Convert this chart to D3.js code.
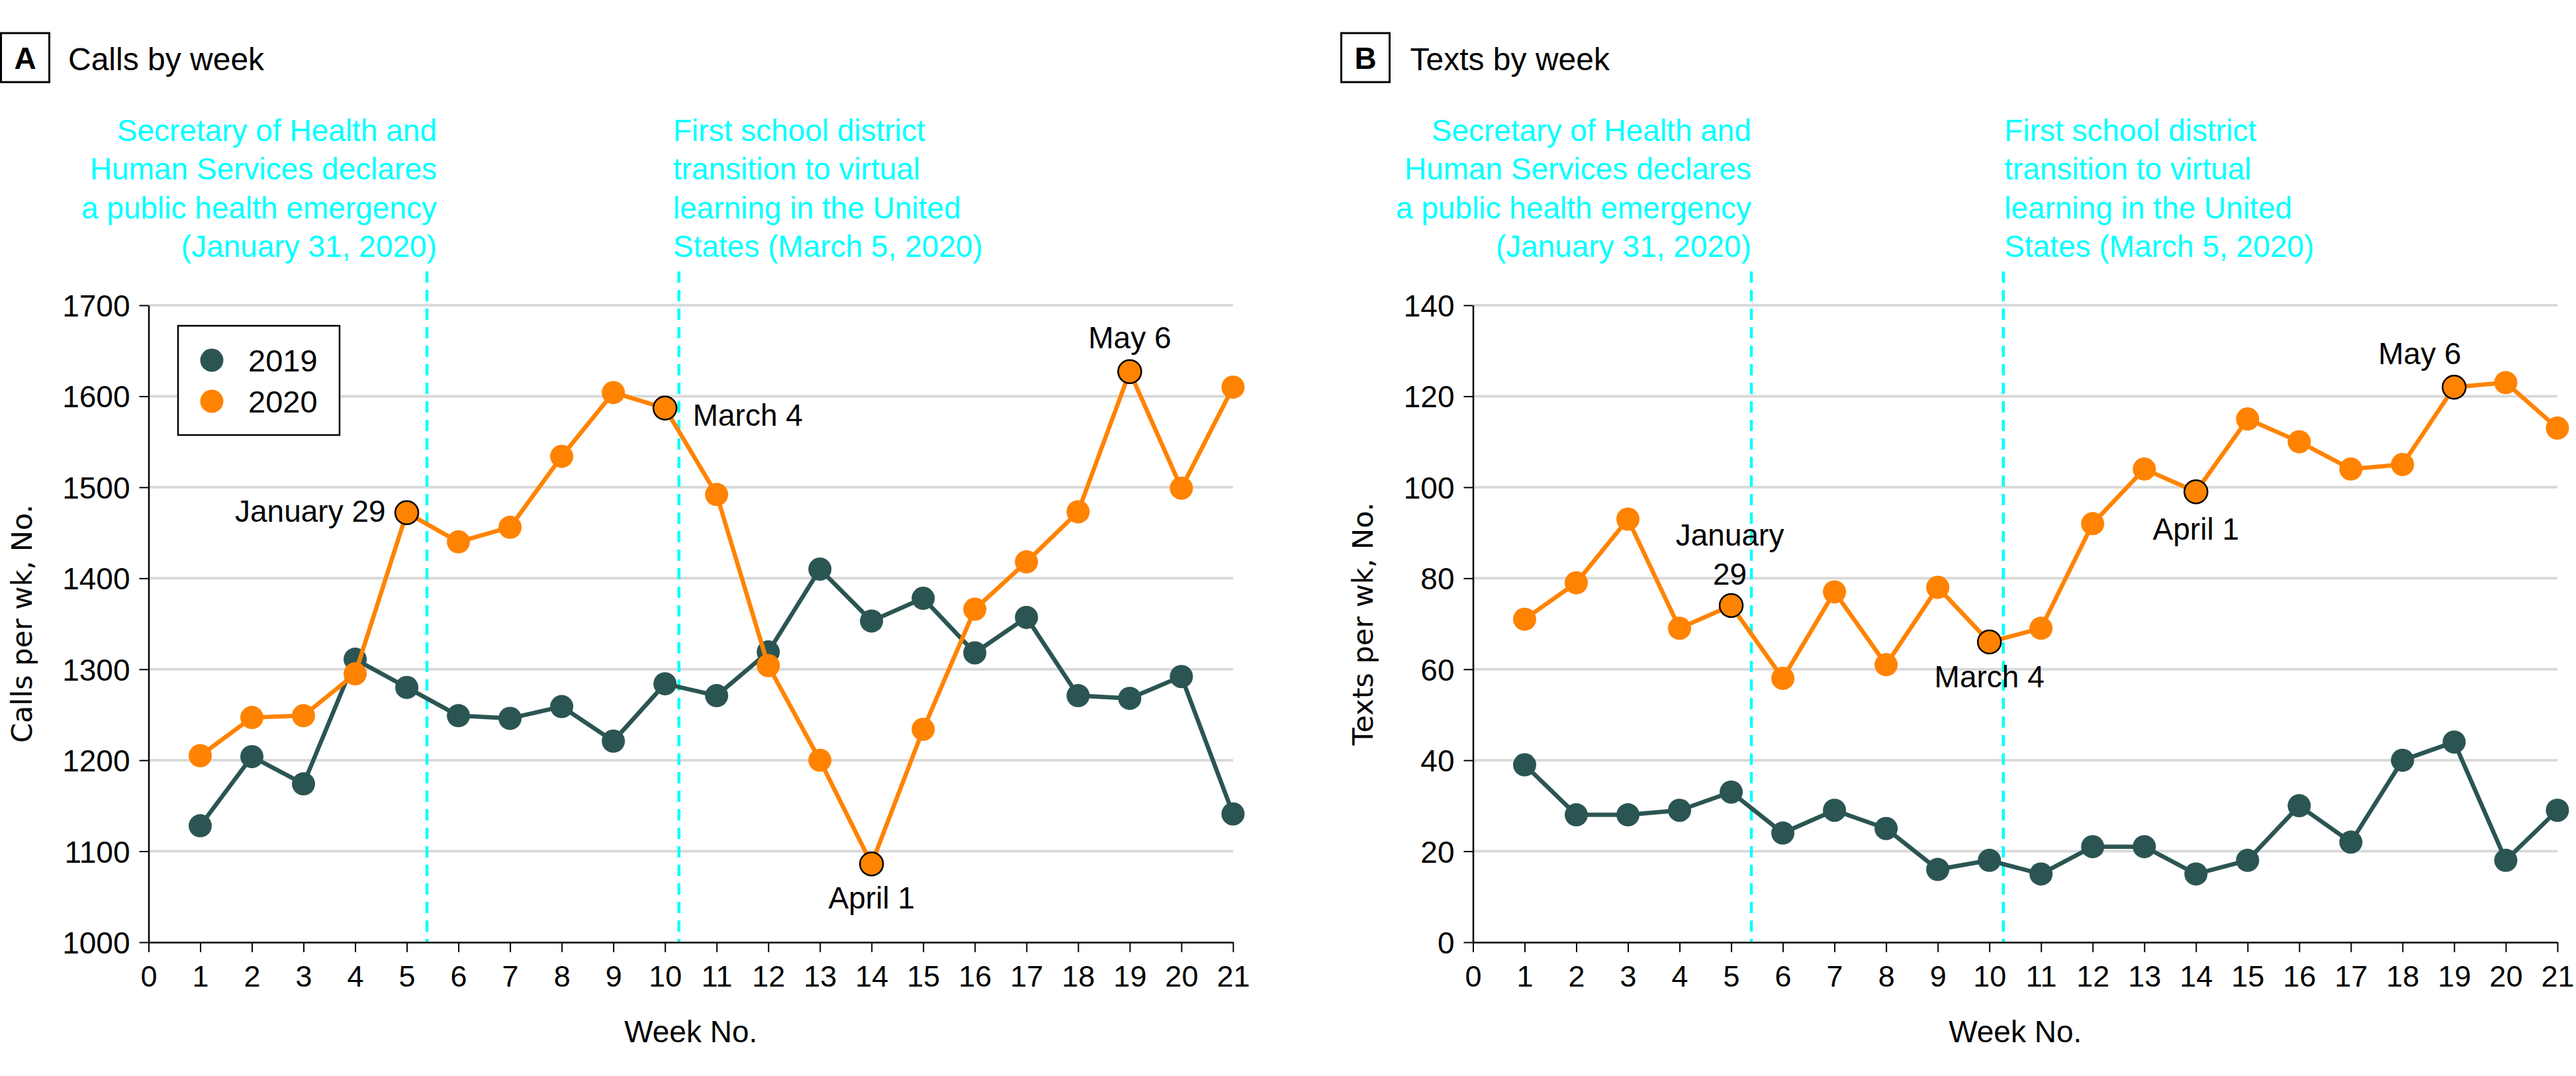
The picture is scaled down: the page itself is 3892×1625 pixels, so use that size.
<!DOCTYPE html>
<html>
<head>
<meta charset="utf-8">
<script src="https://cdn.jsdelivr.net/npm/d3@7"></script>
<style>
  html, body { margin: 0; padding: 0; background: #ffffff; }
  svg { display: block; }
</style>
</head>
<body>
<svg id="chart" width="3892" height="1625"></svg>
<script>
// ---------------- DATA ----------------
const weeks = d3.range(1, 22);                 // week numbers 1..21
const weekTicks = d3.range(0, 22);             // x tick labels 0..21
const seriesNames = ["2019", "2020"];

const calls2019 = [1128, 1204, 1174, 1311, 1280, 1249, 1246, 1259, 1221, 1284, 1271,
                   1319, 1410, 1353, 1378, 1318, 1357, 1271, 1268, 1292, 1141];
const calls2020 = [1205, 1247, 1249, 1295, 1472, 1440, 1456, 1534, 1604, 1587, 1492,
                   1304, 1200, 1086, 1234, 1366, 1418, 1473, 1627, 1499, 1610];
const texts2019 = [39, 28, 28, 29, 33, 24, 29, 25, 16, 18, 15, 21, 21, 15, 18, 30, 22, 40, 44, 18, 29];
const texts2020 = [71, 79, 93, 69, 74, 58, 77, 61, 78, 66, 69, 92, 104, 99, 115, 110, 104, 105, 122, 123, 113];

const callsTicks = [1000, 1100, 1200, 1300, 1400, 1500, 1600, 1700];
const textsTicks = [0, 20, 40, 60, 80, 100, 120, 140];

const panelLetters = ["A", "B"];
const panelTitles = ["Calls by week", "Texts by week"];
const yAxisTitles = ["Calls per wk, No.", "Texts per wk, No."];
const xAxisTitle = "Week No.";

// vertical event markers (in week units) and their captions
const eventWeeks = [5.39, 10.27];
const eventTexts = [
  ["Secretary of Health and", "Human Services declares", "a public health emergency", "(January 31, 2020)"],
  ["First school district", "transition to virtual", "learning in the United", "States (March 5, 2020)"]
];

// highlighted 2020 points
const highlightWeeks = [5, 10, 14, 19];
const highlightLabelsCalls = [["January 29"], ["March 4"], ["April 1"], ["May 6"]];
const highlightLabelsTexts = [["January", "29"], ["March 4"], ["April 1"], ["May 6"]];

// ---------------- STYLE / LAYOUT ----------------
const FONT = "'Liberation Sans', Arial, sans-serif";
const ALTFONT = "'DejaVu Sans', Verdana, sans-serif";
const COLORS = { "2019": "#2b5553", "2020": "#ff8300" };
const CYAN = "#00ffff";
const GRID = "#d9d9d9";
const STEP = 78.02;
const Y_TOP = 461, Y_BOT = 1423;
const R = 17.5;

const panels = [
  {
    letter: panelLetters[0], title: panelTitles[0], yTitle: yAxisTitles[0],
    s19: calls2019, s20: calls2020, ticks: callsTicks, labels: highlightLabelsCalls,
    x0: 224.5, boxX: 1.5, titleX: 103, yTitleX: 48, legend: true,
    evAnchor: [{ a: "end", w: 5.582 }, { a: "start", w: 10.158 }],
    lab: [
      { dx: -32, dy: 14, a: "end" },
      { dx: 42, dy: 27, a: "start" },
      { dx: 0, dy: 67, a: "middle" },
      { dx: 0, dy: -35, a: "middle" }
    ]
  },
  {
    letter: panelLetters[1], title: panelTitles[1], yTitle: yAxisTitles[1],
    s19: texts2019, s20: texts2020, ticks: textsTicks, labels: highlightLabelsTexts,
    x0: 2225.5, boxX: 2026.5, titleX: 2130.5, yTitleX: 2074, legend: false,
    evAnchor: [{ a: "end", w: 5.39 }, { a: "start", w: 10.29 }],
    lab: [
      { dx: -2, dy: -32, a: "middle" },
      { dx: 0, dy: 69, a: "middle" },
      { dx: 0, dy: 72, a: "middle" },
      { dx: -52, dy: -35, a: "middle" }
    ]
  }
];

const svg = d3.select("#chart");
svg.append("rect").attr("width", 3892).attr("height", 1625).attr("fill", "#fff");

panels.forEach(p => {
  const g = svg.append("g");
  const x = d3.scaleLinear().domain([0, 21]).range([p.x0, p.x0 + 21 * STEP]);
  const y = d3.scaleLinear().domain([p.ticks[0], p.ticks[p.ticks.length - 1]]).range([Y_BOT, Y_TOP]);

  // panel letter box + title
  g.append("rect").attr("x", p.boxX).attr("y", 50).attr("width", 73).attr("height", 74)
    .attr("fill", "none").attr("stroke", "#000").attr("stroke-width", 3);
  g.append("text").attr("x", p.boxX + 36.5).attr("y", 87 + 16.5)
    .attr("text-anchor", "middle").attr("font-family", FONT).attr("font-weight", "bold")
    .attr("font-size", 46).attr("fill", "#000").text(p.letter);
  g.append("text").attr("x", p.titleX).attr("y", 106)
    .attr("font-family", FONT).attr("font-size", 48).attr("fill", "#000").text(p.title);

  // gridlines
  g.append("g").selectAll("line").data(p.ticks.slice(1)).join("line")
    .attr("x1", x(0)).attr("x2", x(21))
    .attr("y1", d => y(d)).attr("y2", d => y(d))
    .attr("stroke", GRID).attr("stroke-width", 4);

  // event lines + captions
  eventWeeks.forEach((ew, i) => {
    g.append("line").attr("x1", x(ew)).attr("x2", x(ew)).attr("y1", 410).attr("y2", Y_BOT)
      .attr("stroke", CYAN).attr("stroke-width", 4.5).attr("stroke-dasharray", "17 11");
    const t = g.append("text").attr("font-family", FONT).attr("font-size", 46)
      .attr("fill", CYAN).attr("text-anchor", p.evAnchor[i].a);
    eventTexts[i].forEach((line, k) => {
      t.append("tspan").attr("x", x(p.evAnchor[i].w)).attr("y", 213 + k * 58.4).text(line);
    });
  });

  // legend (panel A)
  if (p.legend) {
    const lg = g.append("g");
    lg.append("rect").attr("x", 269).attr("y", 492).attr("width", 244).attr("height", 165)
      .attr("fill", "#fff").attr("stroke", "#000").attr("stroke-width", 2.5);
    seriesNames.forEach((s, i) => {
      const cy = 544 + i * 62;
      lg.append("circle").attr("cx", 320).attr("cy", cy).attr("r", R).attr("fill", COLORS[s]);
      lg.append("text").attr("x", 375).attr("y", cy + 16.5).attr("font-family", FONT)
        .attr("font-size", 47).attr("fill", "#000").text(s);
    });
  }

  // axes
  const xAxis = g.append("g").attr("transform", `translate(0,${Y_BOT})`)
    .call(d3.axisBottom(x).tickValues(weekTicks).tickSize(15).tickSizeOuter(0).tickPadding(20).tickFormat(d3.format("d")));
  const yAxis = g.append("g").attr("transform", `translate(${p.x0},0)`)
    .call(d3.axisLeft(y).tickValues(p.ticks).tickSize(14).tickSizeOuter(0).tickPadding(14).tickFormat(d3.format("d")));
  [xAxis, yAxis].forEach(a => {
    a.select(".domain").attr("stroke", "#000").attr("stroke-width", 2.5);
    a.selectAll(".tick line").attr("stroke", "#000").attr("stroke-width", 2);
    a.selectAll(".tick text").attr("font-family", FONT).attr("fill", "#000");
  });
  xAxis.selectAll(".tick text").attr("font-size", 45);
  yAxis.selectAll(".tick text").attr("font-size", 46).attr("dy", "0.36em");

  // axis titles
  g.append("text").attr("x", (x(0) + x(21)) / 2).attr("y", 1574).attr("text-anchor", "middle")
    .attr("font-family", FONT).attr("font-size", 46).attr("fill", "#000").text(xAxisTitle);
  g.append("text").attr("transform", `translate(${p.yTitleX},${(Y_TOP + Y_BOT) / 2}) rotate(-90)`)
    .attr("text-anchor", "middle").attr("font-family", ALTFONT).attr("font-size", 43)
    .attr("fill", "#000").text(p.yTitle);

  // series
  const line = d3.line().x((d, i) => x(weeks[i])).y(d => y(d));
  [["2019", p.s19], ["2020", p.s20]].forEach(([name, vals]) => {
    g.append("path").datum(vals).attr("d", line).attr("fill", "none")
      .attr("stroke", COLORS[name]).attr("stroke-width", 6.5).attr("stroke-linejoin", "round");
    g.append("g").selectAll("circle").data(vals).join("circle")
      .attr("cx", (d, i) => x(weeks[i])).attr("cy", d => y(d)).attr("r", R)
      .attr("fill", COLORS[name])
      .attr("stroke", (d, i) => (name === "2020" && highlightWeeks.includes(weeks[i])) ? "#000" : "none")
      .attr("stroke-width", 2.5);
  });

  // highlight labels
  highlightWeeks.forEach((w, i) => {
    const px = x(w), py = y(p.s20[weeks.indexOf(w)]);
    const L = p.lab[i];
    const lines = p.labels[i];
    const t = g.append("text").attr("font-family", FONT).attr("font-size", 46)
      .attr("fill", "#000").attr("text-anchor", L.a);
    lines.forEach((ln, k) => {
      const offset = (k - (lines.length - 1)) * 59;
      t.append("tspan").attr("x", px + L.dx).attr("y", py + L.dy + offset).text(ln);
    });
  });
});
</script>
</body>
</html>
